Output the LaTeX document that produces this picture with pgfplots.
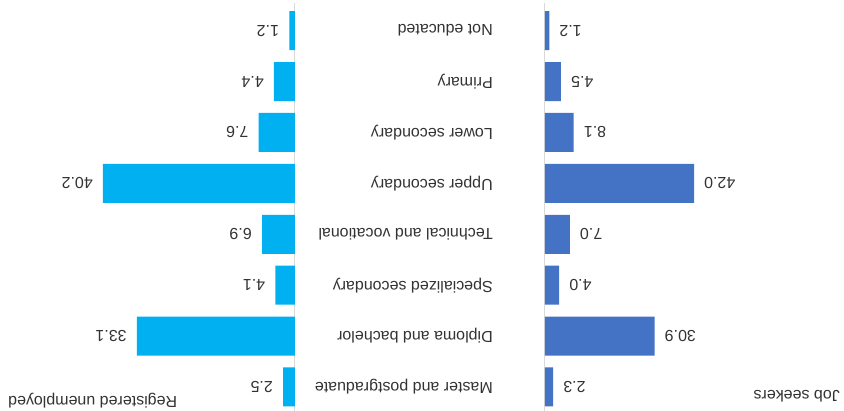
\documentclass[border=0pt]{standalone}
\usepackage{graphicx}
\usepackage{fontspec}
\setmainfont{Liberation Sans}
\usepackage{pgfplots}
\usepackage{pgfplotstable}
\pgfplotsset{compat=1.18}

\definecolor{jobblue}{HTML}{4472C4}
\definecolor{regblue}{HTML}{00B0F0}
\definecolor{gridgray}{HTML}{D9D9D9}
\definecolor{txt}{HTML}{333333}
\newcommand{\lbl}{\fontsize{16}{19}\selectfont}

% idx: 0 = top row (Master and postgraduate)
\pgfplotstableread{
idx js reg
0 2.3 2.5
1 30.9 33.1
2 4.0 4.1
3 7.0 6.9
4 42.0 40.2
5 8.1 7.6
6 4.5 4.4
7 1.2 1.2
}\edudata

\pgfplotsset{
  panel/.style={
    scale only axis, clip=false, hide axis,
    xbar, bar width=39pt, bar shift=0pt,
    height=407.2pt,
    ymin=-0.5, ymax=7.5, y dir=reverse,
    xmin=0, xmax=50,
    point meta=x,
    nodes near coords={\pgfmathprintnumber[fixed,fixed zerofill,precision=1,assume math mode=true]{\pgfplotspointmeta}},
    every node near coord/.append style={font=\lbl, text=txt, inner sep=0pt},
  }
}

\begin{document}
\rotatebox{180}{%
\begin{tikzpicture}
\useasboundingbox (0,0) rectangle (844pt,411pt);

% job seekers, bars growing to the left
\begin{axis}[panel, x dir=reverse, width=177.4pt,
    at={(210.3pt,5.25pt)}, anchor=south,
    every node near coord/.append style={anchor=east, xshift=-10pt}]
\draw[gridgray, line width=1pt] (axis cs:0,-0.55) -- (axis cs:0,7.55);
\addplot[fill=jobblue, draw=none] table[x=js, y=idx] {\edudata};
\end{axis}

% registered unemployed, bars growing to the right
\begin{axis}[panel, width=238.8pt,
    at={(668.4pt,5.25pt)}, anchor=south,
    every node near coord/.append style={anchor=west, xshift=10pt}]
\draw[gridgray, line width=1pt] (axis cs:0,-0.55) -- (axis cs:0,7.55);
\addplot[fill=regblue, draw=none] table[x=reg, y=idx] {\edudata};
\begin{scope}[every node/.style={anchor=west, xshift=-198pt, font=\lbl, text=txt, inner sep=0pt}]
\node at (axis cs:0,0) {Master and postgraduate};
\node at (axis cs:0,1) {Diploma and bachelor};
\node at (axis cs:0,2) {Specialized secondary};
\node at (axis cs:0,3) {Technical and vocational};
\node at (axis cs:0,4) {Upper secondary};
\node at (axis cs:0,5) {Lower secondary};
\node at (axis cs:0,6) {Primary};
\node at (axis cs:0,7) {Not educated};
\end{scope}
\end{axis}

\node[anchor=west, font=\lbl, text=txt, inner sep=0pt] at (4pt,396pt) {Job seekers};
\node[anchor=east, font=\lbl, text=txt, inner sep=0pt] at (836pt,401pt) {Registered unemployed};
\end{tikzpicture}}
\end{document}
